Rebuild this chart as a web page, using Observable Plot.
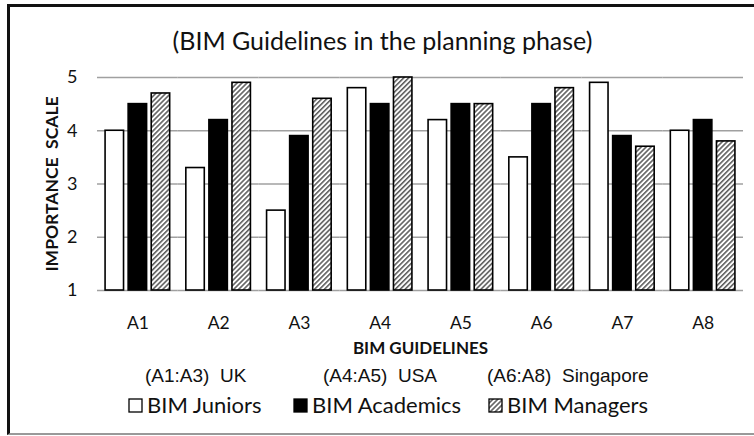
<!DOCTYPE html>
<html><head><meta charset="utf-8">
<script src="https://cdn.jsdelivr.net/npm/d3@7"></script>
<script src="https://cdn.jsdelivr.net/npm/@observablehq/plot@0.6"></script>
<style>
body{margin:0;background:#fff;}
#wrap{position:relative;width:754px;height:436px;overflow:hidden;font-family:Lato,sans-serif;color:#111;}
#frame{position:absolute;left:7px;top:4px;width:760px;height:431px;box-sizing:border-box;border-left:3px solid #111;border-top:3px solid #111;border-bottom:2px solid #999;}
#title{position:absolute;left:8px;width:749px;top:25px;text-align:center;font-size:25px;}
#chart{position:absolute;left:0;top:60px;}
.t{position:absolute;white-space:pre;line-height:1;}
.reg{font-family:"Liberation Sans",Arial,sans-serif;font-size:19px;}
.leg{font-size:22px;display:flex;align-items:center;}
.leg svg{margin-right:4px;}
svg [aria-label="y-axis label"] text, svg [aria-label="fx-axis label"] text{font-weight:bold;}
</style></head><body>
<div id="wrap">
<div id="frame"></div>
<div id="title">(BIM Guidelines in the planning phase)</div>
<div id="chart"></div>
</div>
<script>
const guidelines = ["A1","A2","A3","A4","A5","A6","A7","A8"];
const seriesNames = ["BIM Juniors","BIM Academics","BIM Managers"];
const juniors   = [4.0, 3.3, 2.5, 4.8, 4.2, 3.5, 4.9, 4.0];
const academics = [4.5, 4.2, 3.9, 4.5, 4.5, 4.5, 3.9, 4.2];
const managers  = [4.7, 4.9, 4.6, 5.0, 4.5, 4.8, 3.7, 3.8];
const yTicks = [1, 2, 3, 4, 5];
const regionLabels = ["(A1:A3)  UK", "(A4:A5)  USA", "(A6:A8)  Singapore"];
const seriesFills = ["#ffffff", "#000000", "url(#hatch)"];

const valuesBySeries = [juniors, academics, managers];
const data = [];
guidelines.forEach((g, i) => seriesNames.forEach((s, j) => data.push({g, s, v: valuesBySeries[j][i]})));

const chart = Plot.plot({
  width: 754, height: 300,
  marginLeft: 97, marginRight: 11, marginTop: 17, marginBottom: 70,
  style: {fontFamily: "Lato, sans-serif", color: "#111", background: "transparent"},
  fx: {domain: guidelines, padding: 0, round: false},
  x: {domain: seriesNames, paddingInner: 0.2, paddingOuter: 0.35, round: false, axis: null},
  y: {domain: [1, 5]},
  color: {domain: seriesNames, range: seriesFills},
  marks: [
    Plot.gridY(yTicks, {stroke: "#a0a0a0", strokeOpacity: 1, strokeWidth: 1.3}),
    Plot.barY(data, {fx: "g", x: "s", y1: 1, y2: "v", fill: "s", stroke: "#000", strokeWidth: 1.6}),
    Plot.axisY(yTicks, {tickSize: 0, tickPadding: 20, fontSize: 18, tickFormat: d3.format("d"), label: "IMPORTANCE  SCALE", labelArrow: "none", labelAnchor: "center", labelOffset: 52}),
    Plot.axisFx({anchor: "bottom", tickSize: 0, tickPadding: 26, fontSize: 17.5, label: "BIM GUIDELINES", labelArrow: "none", labelAnchor: "center", labelOffset: 63})
  ]
});

const defs = d3.create("svg:defs");
const pat = defs.append("pattern").attr("id", "hatch").attr("patternUnits", "userSpaceOnUse")
  .attr("width", 3.5).attr("height", 3.5).attr("patternTransform", "rotate(45)");
pat.append("rect").attr("width", 3.5).attr("height", 3.5).attr("fill", "#fff");
pat.append("line").attr("x1", 0.8).attr("y1", 0).attr("x2", 0.8).attr("y2", 3.5).attr("stroke", "#555").attr("stroke-width", 1.5);
chart.insertBefore(defs.node(), chart.firstChild);
document.getElementById("chart").appendChild(chart);

d3.select(chart).selectAll('[aria-label="y-axis label"] text').attr("font-size", 17.5);
d3.select(chart).selectAll('[aria-label="fx-axis label"] text').attr("font-size", 17);

const wrap = d3.select("#wrap");
const regionX = [145, 323, 487];
regionLabels.forEach((t, i) => {
  wrap.append("div").attr("class", "t reg").style("left", regionX[i] + "px").style("top", "366px").text(t);
});
const legendX = [128, 293, 488];
seriesNames.forEach((s, i) => {
  const item = wrap.append("div").attr("class", "t leg").style("left", legendX[i] + "px").style("top", "394px");
  const sw = item.append("svg").attr("width", 15).attr("height", 15);
  sw.append("rect").attr("x", 1).attr("y", 1).attr("width", 13).attr("height", 13)
    .attr("fill", seriesFills[i]).attr("stroke", "#000").attr("stroke-width", 1.3);
  item.append("span").text(s);
});
</script>
</body></html>
